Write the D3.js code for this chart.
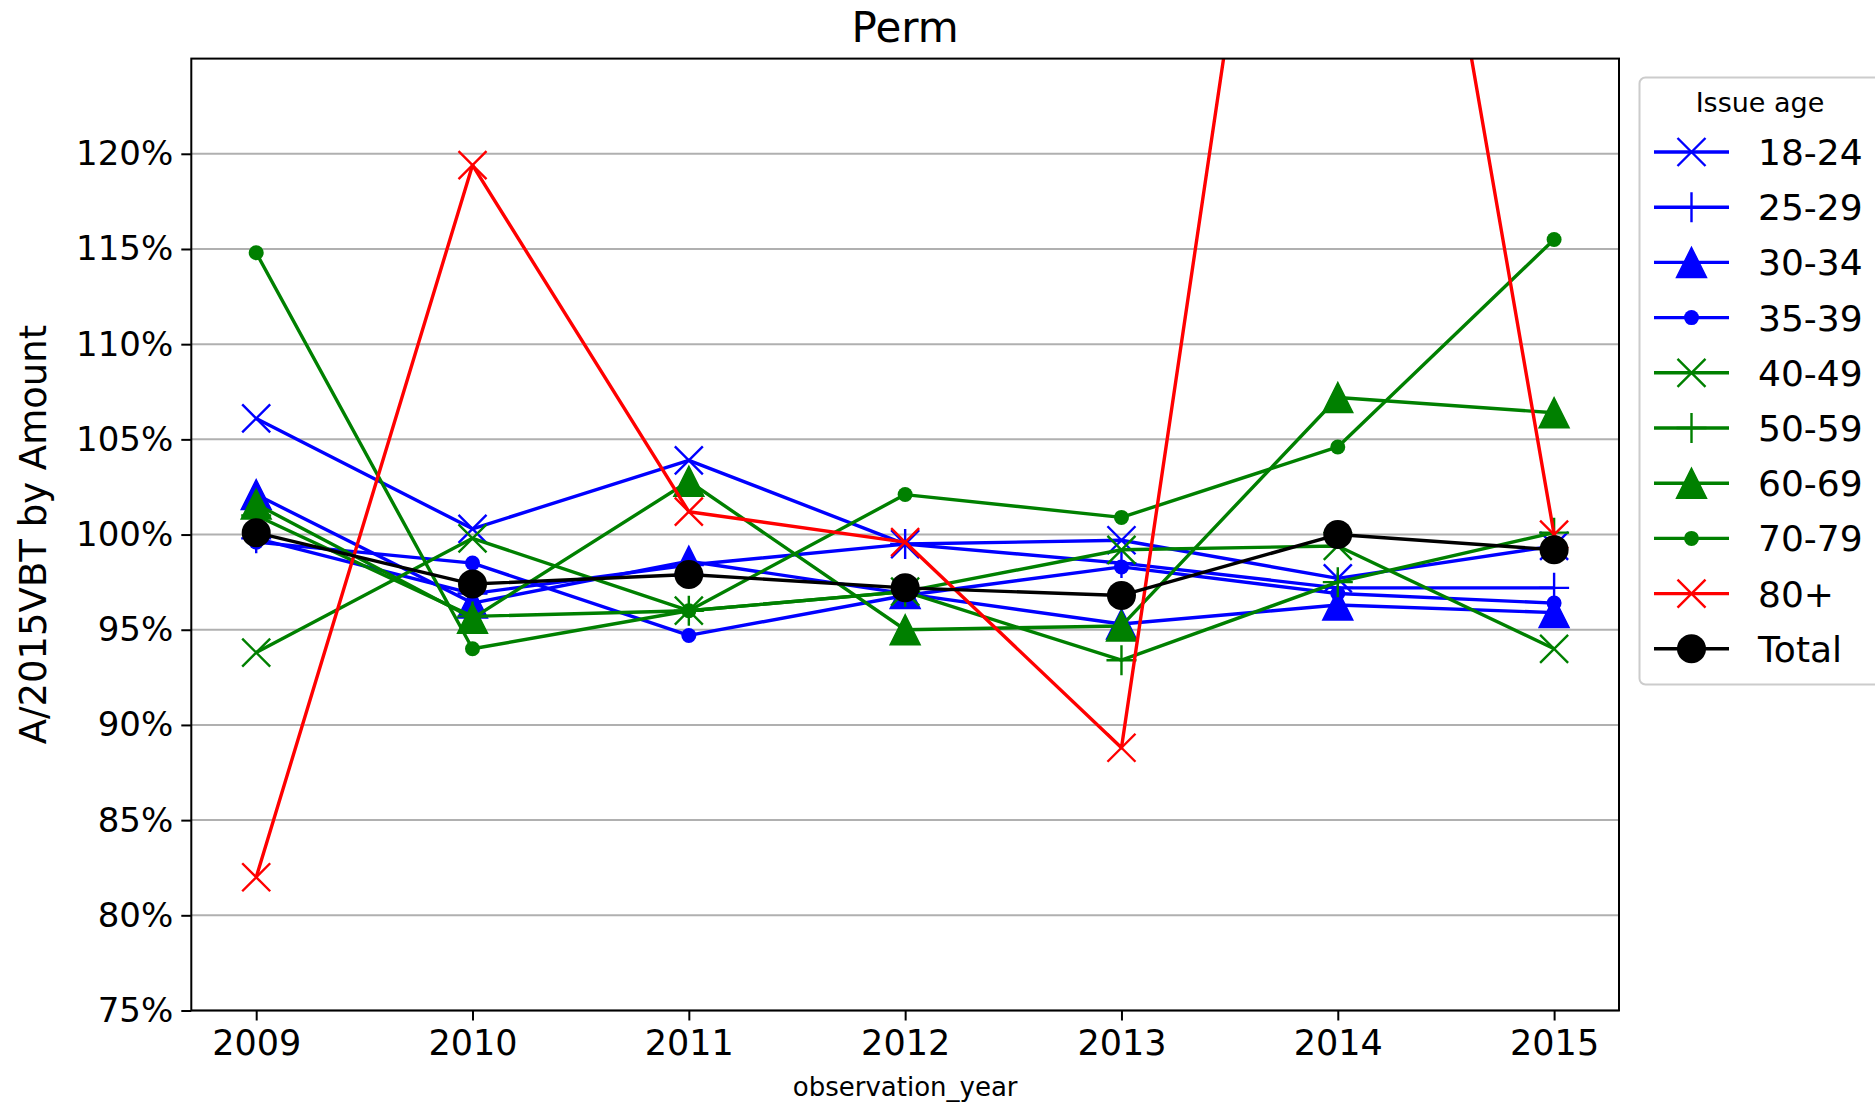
<!DOCTYPE html>
<html>
<head>
<meta charset="utf-8">
<script src="https://cdn.jsdelivr.net/npm/d3@7/dist/d3.min.js"></script>
<style>
  html, body { margin: 0; padding: 0; background: #fff; }
  text { font-family: "DejaVu Sans", sans-serif; fill: #000; }
</style>
</head>
<body>
<svg id="chart" width="1875" height="1104"></svg>
<script>
// ---------- data ----------
const years = [2009, 2010, 2011, 2012, 2013, 2014, 2015];
const yTicks = [75, 80, 85, 90, 95, 100, 105, 110, 115, 120];
const seriesNames = ["18-24", "25-29", "30-34", "35-39", "40-49", "50-59", "60-69", "70-79", "80+", "Total"];
const seriesColors = ["#0000ff", "#0000ff", "#0000ff", "#0000ff", "#008000", "#008000", "#008000", "#008000", "#ff0000", "#000000"];
const seriesMarkers = ["x", "+", "^", ".", "x", "+", "^", ".", "x", "o"];
const v18_24 = [106.1, 100.3, 103.9, 99.5, 99.7, 97.7, 99.4];
const v25_29 = [99.8, 96.9, 98.4, 99.5, 98.5, 97.2, 97.2];
const v30_34 = [102.1, 96.4, 98.6, 96.9, 95.3, 96.3, 95.9];
const v35_39 = [99.6, 98.5, 94.7, 96.8, 98.3, 96.9, 96.4];
const v40_49 = [93.8, 99.8, 96.0, 97.0, 99.2, 99.4, 94.0];
const v50_59 = [101.0, 95.7, 96.0, 97.0, 93.4, 97.5, 100.1];
const v60_69 = [101.6, 95.6, 102.8, 95.0, 95.2, 107.2, 106.4];
const v70_79 = [114.8, 94.0, 96.0, 102.1, 100.9, 104.6, 115.5];
const v80p   = [82.0, 119.4, 101.2, 99.6, 88.8, 165.5, 100.0];
const vTotal = [100.1, 97.4, 97.9, 97.2, 96.8, 100.0, 99.2];
const seriesValues = [v18_24, v25_29, v30_34, v35_39, v40_49, v50_59, v60_69, v70_79, v80p, vTotal];

// ---------- layout ----------
const L = 191.3, R = 1619, T = 58.6, B = 1010.5;
const svg = d3.select("#chart");
const x = d3.scaleLinear().domain([2008.7, 2015.3]).range([L, R]);
const y = d3.scaleLinear().domain([75, 125]).range([B, T]);

svg.append("defs").append("clipPath").attr("id", "plotclip")
  .append("rect").attr("x", L).attr("y", T).attr("width", R - L).attr("height", B - T);

// grid
svg.append("g").selectAll("line").data(yTicks).join("line")
  .attr("x1", L).attr("x2", R)
  .attr("y1", d => y(d)).attr("y2", d => y(d))
  .attr("stroke", "#b0b0b0").attr("stroke-width", 2);

// marker drawing
function drawMarker(g, type, color) {
  if (type === "x") {
    const s = 14;
    g.append("path").attr("d", `M${-s},${-s}L${s},${s}M${-s},${s}L${s},${-s}`)
      .attr("stroke", color).attr("stroke-width", 2.4).attr("fill", "none");
  } else if (type === "+") {
    const s = 15;
    g.append("path").attr("d", `M${-s},0L${s},0M0,${-s}L0,${s}`)
      .attr("stroke", color).attr("stroke-width", 2.4).attr("fill", "none");
  } else if (type === "^") {
    const s = 15;
    g.append("path").attr("d", `M0,${-s}L${-s},${s}L${s},${s}Z`)
      .attr("fill", color).attr("stroke", color).attr("stroke-width", 1.5);
  } else if (type === ".") {
    g.append("circle").attr("r", 7.5).attr("fill", color);
  } else if (type === "o") {
    g.append("circle").attr("r", 14.5).attr("fill", color);
  }
}

const line = d3.line().x((d, i) => x(years[i])).y(d => y(d));
const plot = svg.append("g").attr("clip-path", "url(#plotclip)");
seriesNames.forEach((name, si) => {
  const g = plot.append("g");
  g.append("path").datum(seriesValues[si]).attr("d", line)
    .attr("fill", "none").attr("stroke", seriesColors[si]).attr("stroke-width", 3.4)
    .attr("stroke-linejoin", "round");
  seriesValues[si].forEach((v, i) => {
    const mg = g.append("g").attr("transform", `translate(${x(years[i])},${y(v)})`);
    drawMarker(mg, seriesMarkers[si], seriesColors[si]);
  });
});

// frame
svg.append("rect").attr("x", L).attr("y", T).attr("width", R - L).attr("height", B - T)
  .attr("fill", "none").attr("stroke", "#000").attr("stroke-width", 2);

// axes
const yAxis = svg.append("g").attr("transform", `translate(${L},0)`)
  .call(d3.axisLeft(y).tickValues(yTicks).tickFormat(d => d + "%").tickSize(10).tickSizeOuter(0).tickPadding(8));
const xAxis = svg.append("g").attr("transform", `translate(0,${B})`)
  .call(d3.axisBottom(x).tickValues(years).tickFormat(d3.format("d")).tickSize(10).tickSizeOuter(0).tickPadding(10));
[yAxis, xAxis].forEach(a => {
  a.select(".domain").remove();
  a.selectAll(".tick line").attr("stroke", "#000").attr("stroke-width", 2);
  a.selectAll(".tick text").style("font-family", "DejaVu Sans").style("font-size", "35px").attr("fill", "#000");
});
yAxis.selectAll(".tick text").style("font-size", "34px");

// title and labels
svg.append("text").attr("x", (L + R) / 2).attr("y", 42).attr("text-anchor", "middle")
  .style("font-size", "42px").text("Perm");
svg.append("text").attr("x", (L + R) / 2).attr("y", 1096).attr("text-anchor", "middle")
  .style("font-size", "26px").text("observation_year");
svg.append("text").attr("transform", `translate(46,${(T + B) / 2}) rotate(-90)`).attr("text-anchor", "middle")
  .style("font-size", "37px").text("A/2015VBT by Amount");

// legend
const lg = svg.append("g");
lg.append("rect").attr("x", 1639.5).attr("y", 77.5).attr("width", 260).attr("height", 607)
  .attr("rx", 6).attr("fill", "#fff").attr("fill-opacity", 0.8).attr("stroke", "#cccccc").attr("stroke-width", 2);
lg.append("text").attr("x", 1760).attr("y", 112).attr("text-anchor", "middle")
  .style("font-size", "27px").text("Issue age");
seriesNames.forEach((name, si) => {
  const yy = 152 + si * 55.2;
  lg.append("line").attr("x1", 1654).attr("x2", 1729).attr("y1", yy).attr("y2", yy)
    .attr("stroke", seriesColors[si]).attr("stroke-width", 3.4);
  const mg = lg.append("g").attr("transform", `translate(1691.5,${yy})`);
  drawMarker(mg, seriesMarkers[si], seriesColors[si]);
  lg.append("text").attr("x", 1758).attr("y", yy + 13).style("font-size", "36px").text(name);
});
</script>
</body>
</html>
